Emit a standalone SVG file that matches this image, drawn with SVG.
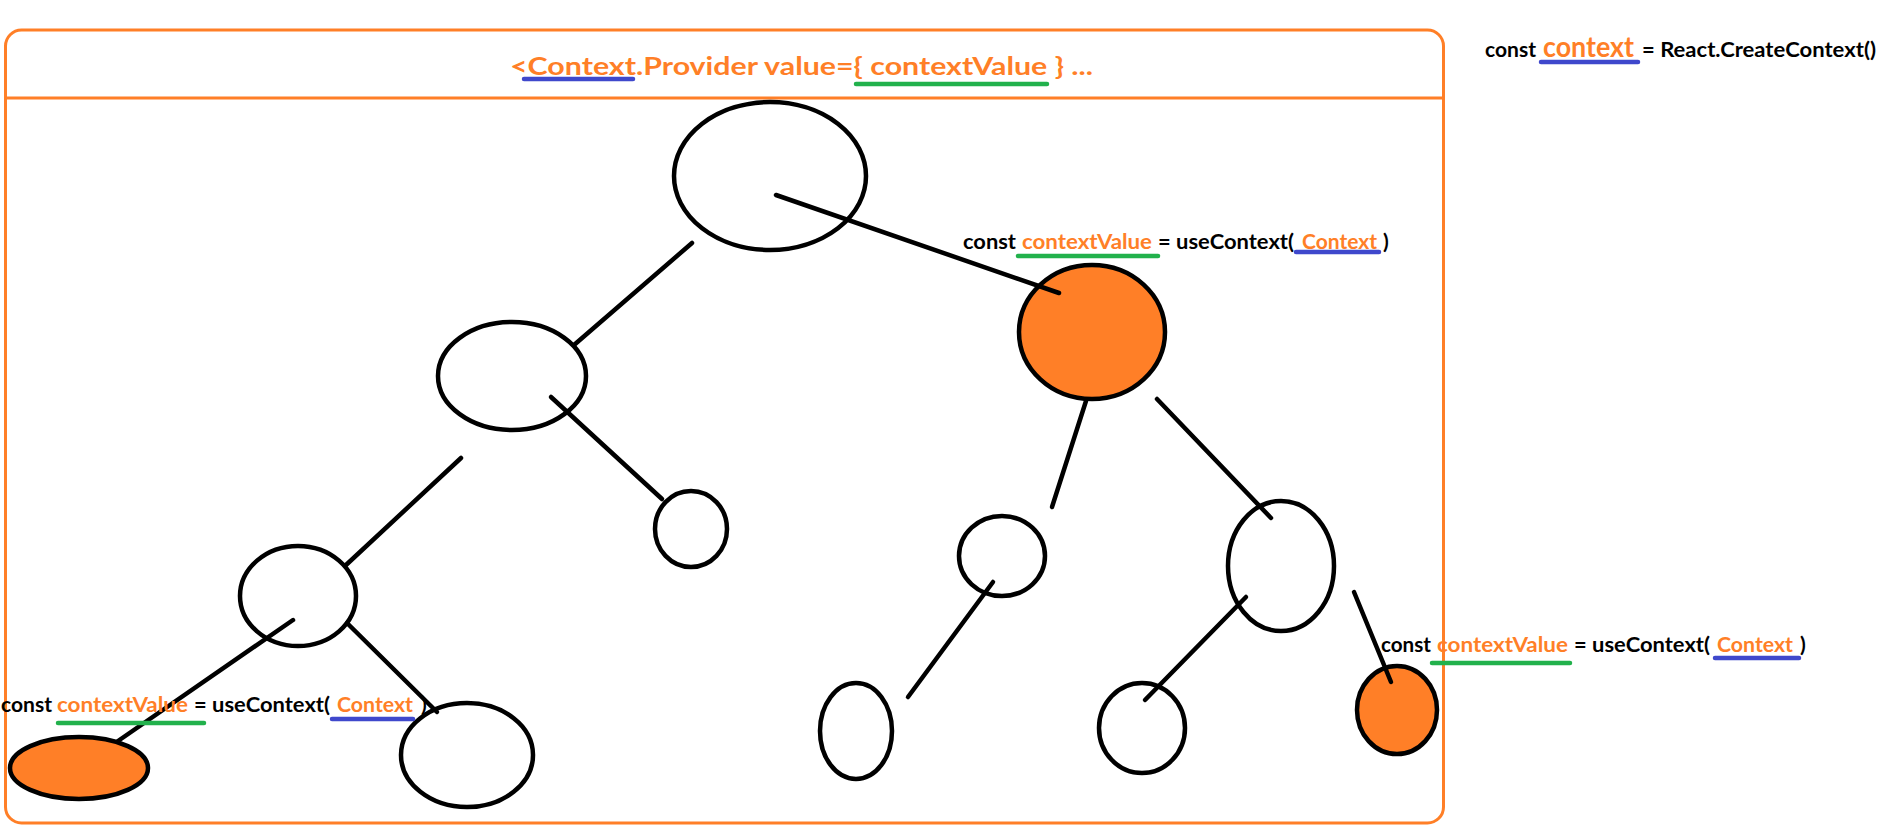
<svg xmlns="http://www.w3.org/2000/svg" width="1889" height="837" viewBox="0 0 1889 837">
<style>
.bg{fill:#ffffff}
.frame{fill:none;stroke:#FF7F27;stroke-width:3}
.node{fill:none;stroke:#000;stroke-width:4.5}
.hot{fill:#FF7F27;stroke:#000;stroke-width:4.5}
.edge{stroke:#000;stroke-width:4.5;stroke-linecap:round;fill:none}
.ul-b{stroke:#3F48CC;stroke-width:4.5;stroke-linecap:round}
.ul-g{stroke:#22B14C;stroke-width:4.5;stroke-linecap:round}
text{font-family:Lato,"Open Sans","Liberation Sans",sans-serif;font-weight:bold}
.k{fill:#000;font-size:21px}
.o{fill:#FF7F27;font-size:21px}
.h{fill:#FF7F27;font-size:25px}
.big{fill:#FF7F27;font-size:28px}
</style>
<rect class="bg" x="0" y="0" width="1889" height="837"/>
<g id="provider">
<rect class="frame" x="5.5" y="30" width="1438" height="793" rx="16" ry="16"/>
<line class="frame" x1="5.5" y1="98" x2="1443.5" y2="98"/>
<text class="h" x="510" y="75" textLength="583" lengthAdjust="spacingAndGlyphs">&lt;Context.Provider value={ contextValue } ...</text>
<line class="ul-b" x1="524" y1="79" x2="633" y2="79"/>
<line class="ul-g" x1="856" y1="84" x2="1047" y2="84"/>
</g>
<g id="create-context">
<text class="k" x="1485" y="57" textLength="51" lengthAdjust="spacingAndGlyphs">const</text>
<text class="big" x="1543" y="57" textLength="91" lengthAdjust="spacingAndGlyphs">context</text>
<text class="k" x="1642" y="57" textLength="234" lengthAdjust="spacingAndGlyphs">= React.CreateContext()</text>
<line class="ul-b" x1="1541" y1="62" x2="1638" y2="62"/>
</g>
<g id="n-root"><ellipse class="node" cx="770" cy="176" rx="96" ry="74"/></g>
<g id="n-left"><ellipse class="node" cx="512" cy="376" rx="74" ry="54"/></g>
<g id="n-right-consumer"><ellipse class="hot" cx="1092" cy="332" rx="73" ry="67"/></g>
<g id="n-left-right"><ellipse class="node" cx="691" cy="529" rx="36" ry="38"/></g>
<g id="n-left-left"><ellipse class="node" cx="298" cy="596" rx="58" ry="50"/></g>
<g id="n-ll-consumer"><ellipse class="hot" cx="79" cy="768" rx="69" ry="31"/></g>
<g id="n-ll-right"><ellipse class="node" cx="467" cy="755" rx="66" ry="52"/></g>
<g id="n-r-left"><ellipse class="node" cx="1002" cy="556" rx="43" ry="40"/></g>
<g id="n-r-right"><ellipse class="node" cx="1281" cy="566" rx="53" ry="65"/></g>
<g id="n-rl-child"><ellipse class="node" cx="856" cy="731" rx="36" ry="48"/></g>
<g id="n-rr-left"><ellipse class="node" cx="1142" cy="728" rx="43" ry="45"/></g>
<g id="n-rr-consumer"><ellipse class="hot" cx="1397" cy="710" rx="40" ry="44"/></g>
<g id="connectors">
<line class="edge" x1="776" y1="195" x2="1059" y2="293"/>
<line class="edge" x1="692" y1="243" x2="574" y2="345"/>
<line class="edge" x1="551" y1="397" x2="662" y2="499"/>
<line class="edge" x1="461" y1="458" x2="346" y2="565"/>
<line class="edge" x1="293" y1="620" x2="118" y2="741"/>
<line class="edge" x1="347" y1="623" x2="437" y2="712"/>
<line class="edge" x1="1086" y1="401" x2="1052" y2="507"/>
<line class="edge" x1="1157" y1="399" x2="1271" y2="518"/>
<line class="edge" x1="993" y1="582" x2="908" y2="697"/>
<line class="edge" x1="1246" y1="597" x2="1145" y2="700"/>
<line class="edge" x1="1354" y1="592" x2="1391" y2="682"/>
</g>
<g id="label-right">
<text class="k" x="963" y="249" textLength="53" lengthAdjust="spacingAndGlyphs">const</text>
<text class="o" x="1022" y="249" textLength="130" lengthAdjust="spacingAndGlyphs">contextValue</text>
<text class="k" x="1158" y="249" textLength="136" lengthAdjust="spacingAndGlyphs">= useContext(</text>
<text class="o" x="1302" y="249" textLength="75" lengthAdjust="spacingAndGlyphs">Context</text>
<text class="k" x="1383" y="249">)</text>
<line class="ul-g" x1="1018" y1="256" x2="1158" y2="256"/>
<line class="ul-b" x1="1296" y1="252" x2="1379" y2="252"/>
</g>
<g id="label-bottom-right">
<text class="k" x="1381" y="652" textLength="50" lengthAdjust="spacingAndGlyphs">const</text>
<text class="o" x="1437" y="652" textLength="131" lengthAdjust="spacingAndGlyphs">contextValue</text>
<text class="k" x="1574" y="652" textLength="136" lengthAdjust="spacingAndGlyphs">= useContext(</text>
<text class="o" x="1717" y="652" textLength="76" lengthAdjust="spacingAndGlyphs">Context</text>
<text class="k" x="1800" y="652">)</text>
<line class="ul-g" x1="1432" y1="663" x2="1570" y2="663"/>
<line class="ul-b" x1="1715" y1="658" x2="1799" y2="658"/>
</g>
<g id="label-bottom-left">
<text class="k" x="1" y="712" textLength="51" lengthAdjust="spacingAndGlyphs">const</text>
<text class="o" x="57" y="712" textLength="131" lengthAdjust="spacingAndGlyphs">contextValue</text>
<text class="k" x="194" y="712" textLength="136" lengthAdjust="spacingAndGlyphs">= useContext(</text>
<text class="o" x="337" y="712" textLength="76" lengthAdjust="spacingAndGlyphs">Context</text>
<text class="k" x="421" y="712">)</text>
<line class="ul-g" x1="58" y1="723" x2="204" y2="723"/>
<line class="ul-b" x1="332" y1="719" x2="413" y2="719"/>
</g>
</svg>
